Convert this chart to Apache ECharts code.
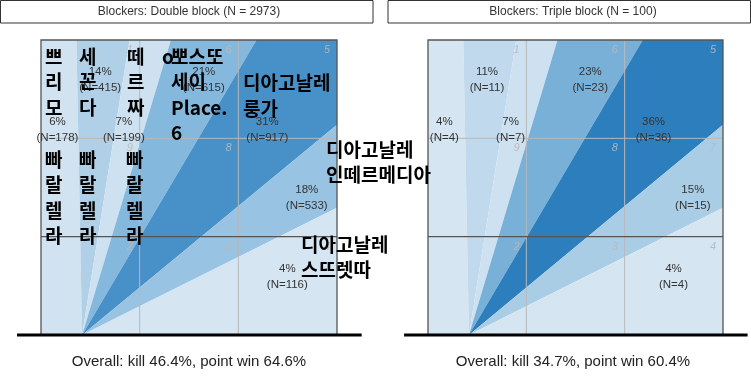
<!DOCTYPE html>
<html><head><meta charset="utf-8">
<script src="https://cdn.jsdelivr.net/npm/echarts@6/dist/echarts.min.js"></script>
<style>html,body{margin:0;padding:0;background:#fff}#c{width:751px;height:376px}</style>
</head><body><div id="c"></div>
<script>
// ---------- data ----------
const panelTitles = ['Blockers: Double block (N = 2973)', 'Blockers: Triple block (N = 100)'];
const overallTexts = ['Overall: kill 46.4%, point win 64.6%', 'Overall: kill 34.7%, point win 60.4%'];
// direction boundaries (degrees) of the 7 attack-direction zones, from attacker
const zoneBoundaryAngles = [180, 91.1, 80.9, 73.3, 59.5, 39.6, 26.6, 0];
const doublePct = [6, 14, 7, 21, 31, 18, 4];
const doubleN = [178, 415, 199, 615, 917, 533, 116];
const triplePct = [4, 11, 7, 23, 36, 15, 4];
const tripleN = [4, 11, 7, 23, 36, 15, 4];
const zoneNumbers = [[1, 6, 5], [9, 8, 7], [2, 3, 4]]; // rows, far to near
const attackerX = 1.25;

// ---------- layout ----------
const labelAnchors = [[0.5, 6.27], [1.8, 7.78], [2.52, 6.27], [4.95, 7.78], [6.88, 6.27], [8.08, 4.19], [7.49, 1.77]];
const grids = [
  { left: 41, top: 40, width: 296, height: 295 },
  { left: 428, top: 40, width: 295, height: 295 }
];
const panelCenters = [189, 573];

const chart = echarts.init(document.getElementById('c'), null, { renderer: 'canvas' });

function wedgeRender(params, api) {
  const i = api.value(2);
  const a0 = zoneBoundaryAngles[i] * Math.PI / 180;
  const a1 = zoneBoundaryAngles[i + 1] * Math.PI / 180;
  const R = 30;
  const o = api.coord([attackerX, 0]);
  const p0 = api.coord([attackerX + R * Math.cos(a0), R * Math.sin(a0)]);
  const p1 = api.coord([attackerX + R * Math.cos(a1), R * Math.sin(a1)]);
  return { type: 'polygon', shape: { points: [o, p0, p1] }, style: { fill: api.visual('color') } };
}
function labelRender(params, api) {
  const i = api.value(2);
  const p = api.coord(labelAnchors[i]);
  return {
    type: 'text', x: p[0], y: p[1],
    style: {
      text: api.value(0) + '%\n(N=' + api.value(1) + ')',
      align: 'center', verticalAlign: 'middle',
      font: '11.5px "Liberation Sans", Arial, sans-serif', lineHeight: 16, fill: '#333'
    }
  };
}
function courtRender(params, api) {
  const c = (x, y) => api.coord([x, y]);
  const ln = (a, b, stroke, w) => ({ type: 'line', shape: { x1: a[0], y1: a[1], x2: b[0], y2: b[1] }, style: { stroke, lineWidth: w } });
  const children = [
    ln(c(3, 0), c(3, 9), '#b9b9b9', 1),
    ln(c(6, 0), c(6, 9), '#b9b9b9', 1),
    ln(c(0, 6), c(9, 6), '#b9b9b9', 1),
    ln(c(0, 3), c(9, 3), '#555', 1.3),
    { type: 'polyline', shape: { points: [c(0, 0), c(0, 9), c(9, 9), c(9, 0)] }, style: { stroke: '#555', lineWidth: 1.3, fill: null } },
    ln(c(-0.73, 0), c(9.75, 0), '#000', 3)
  ];
  zoneNumbers.forEach((row, r) => row.forEach((num, k) => {
    const p = c(3 * (k + 1) - 0.3, 9 - 3 * r - 0.3);
    children.push({ type: 'text', x: p[0], y: p[1], style: { text: String(num), align: 'center', verticalAlign: 'middle', font: 'italic 11px "Liberation Sans", Arial, sans-serif', fill: 'rgba(185,185,185,0.9)' } });
  }));
  return { type: 'group', children };
}

const panels = [[doublePct, doubleN], [triplePct, tripleN]];
const series = [];
panels.forEach((pd, g) => {
  const data = pd[0].map((v, i) => [v, pd[1][i], i]);
  series.push({ type: 'custom', xAxisIndex: g, yAxisIndex: g, clip: true, z: 1, renderItem: wedgeRender, data, silent: true });
  series.push({ type: 'custom', xAxisIndex: g, yAxisIndex: g, clip: false, z: 2, renderItem: courtRender, data: [[0, 0, 0]], silent: true });
  series.push({ type: 'custom', xAxisIndex: g, yAxisIndex: g, clip: false, z: 3, renderItem: labelRender, data, silent: true });
});

const koFont = 'bold 19px "Noto Sans CJK KR", sans-serif';
function ko(text, x, y) {
  return { type: 'text', x, y, z: 100, style: { text, font: koFont, lineHeight: 25.5, fill: '#000', align: 'left', verticalAlign: 'top' } };
}
const graphic = [];
panelTitles.forEach((t, g) => {
  const rx = g === 0 ? 0.5 : 388;
  const rw = g === 0 ? 372.5 : 362.5;
  graphic.push({ type: 'rect', shape: { x: rx, y: 0.5, width: rw, height: 22.5 }, style: { fill: '#fff', stroke: '#333', lineWidth: 1 } });
  graphic.push({ type: 'text', x: panelCenters[g], y: 12, style: { text: t, align: 'center', verticalAlign: 'middle', font: '12px "Liberation Sans", Arial, sans-serif', fill: '#333' } });
  graphic.push({ type: 'text', x: panelCenters[g], y: 362, style: { text: overallTexts[g], align: 'center', verticalAlign: 'middle', font: '15px "Liberation Sans", Arial, sans-serif', fill: '#222' } });
});
graphic.push(ko('쁘\n리\n모', 45, 44));
graphic.push(ko('세\n꼰\n다', 79, 44));
graphic.push(ko('떼\n르\n짜', 127, 44));
graphic.push(ko('o', 162, 44));
graphic.push(ko('뽀스또\n세이\nPlace.\n6', 171, 44));
graphic.push(ko('디아고날레\n룽가', 243, 70.5));
graphic.push(ko('빠\n랄\n렐\n라', 45, 147));
graphic.push(ko('빠\n랄\n렐\n라', 79, 147));
graphic.push(ko('빠\n랄\n렐\n라', 126, 147));
graphic.push(ko('디아고날레\n인떼르메디아', 326, 137));
graphic.push(ko('디아고날레\n스뜨렛따', 301, 232));

const axisCommon = { type: 'value', min: 0, max: 9, show: false };
chart.setOption({
  animation: false,
  backgroundColor: '#fff',
  grid: grids.map(g => Object.assign({}, g, { containLabel: false })),
  xAxis: [Object.assign({ gridIndex: 0 }, axisCommon), Object.assign({ gridIndex: 1 }, axisCommon)],
  yAxis: [Object.assign({ gridIndex: 0 }, axisCommon), Object.assign({ gridIndex: 1 }, axisCommon)],
  visualMap: {
    type: 'continuous', show: false, min: 0, max: 40, dimension: 0, seriesIndex: [0, 3],
    inRange: { color: ['#dae8f4', '#d4e4f2', '#c6dcef', '#aacde6', '#8cbcdf', '#6aa8d4', '#4e93ca', '#3182bf', '#1f6fb0'] }
  },
  series,
  graphic
});
</script>
</body></html>
